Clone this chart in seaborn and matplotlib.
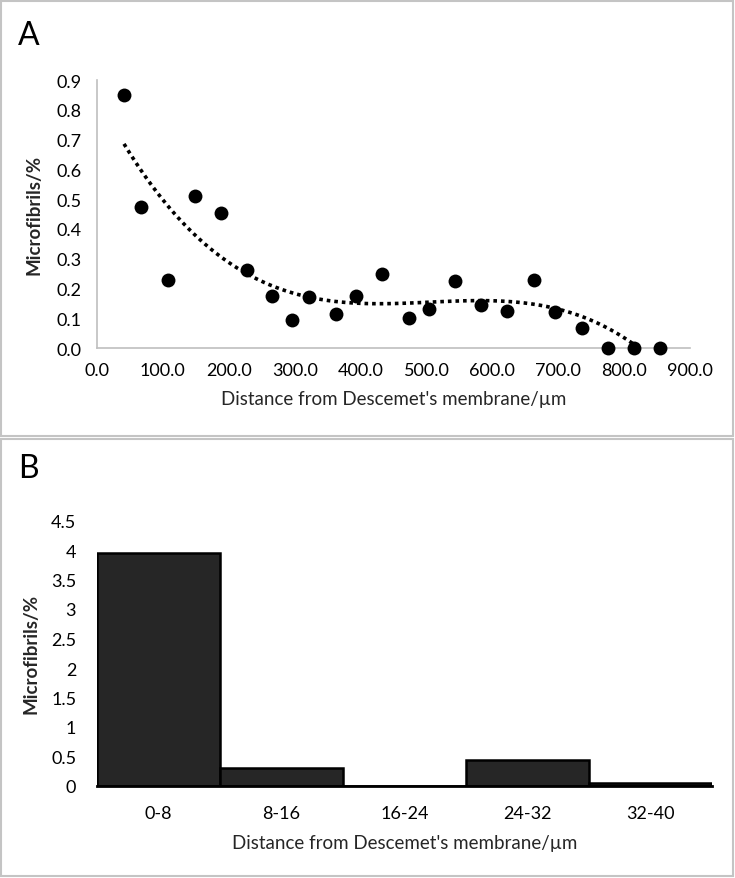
import matplotlib
matplotlib.use("Agg")
import matplotlib.pyplot as plt
import matplotlib.patches as mpatches
import pandas as pd
import seaborn as sns
from matplotlib.ticker import FormatStrFormatter

# Panel A data: distance vs microfibril %
dist = [41, 67, 108, 148, 188, 228, 266, 296, 322, 362, 393, 433,
        473, 504, 544, 583, 623, 663, 695, 736, 776, 815, 854]
micro = [0.851, 0.475, 0.230, 0.511, 0.452, 0.263, 0.174, 0.095, 0.171, 0.113, 0.173, 0.248,
         0.102, 0.132, 0.224, 0.145, 0.125, 0.227, 0.120, 0.066, 0.0, 0.0, 0.0]

# Panel B data: binned distance
bins = ["0-8", "8-16", "16-24", "24-32", "32-40"]
bin_vals = [3.95, 0.30, 0.0, 0.44, 0.05]

df_a = pd.DataFrame({"dist": dist, "micro": micro})
df_b = pd.DataFrame({"bin": bins, "val": bin_vals})

sns.set_style("white")
plt.rcParams["font.family"] = ["Lato", "DejaVu Sans"]
plt.rcParams["text.color"] = "black"

fig = plt.figure(figsize=(7.35, 8.79), dpi=100)

# panel frames
for y0, h in [(1 - 437 / 879, 435 / 879), (2 / 879, 437 / 879)]:
    fig.patches.append(mpatches.Rectangle((1 / 735, y0), 732 / 735, h, transform=fig.transFigure,
                                          fill=False, edgecolor="#c4c4c4", lw=1.5))
fig.text(18 / 735, 1 - 36 / 879, "A", fontsize=23, va="center", ha="left")
fig.text(18 / 735, 1 - 469 / 879, "B", fontsize=23, va="center", ha="left")

grey = "#bfbfbf"

# Panel A
ax1 = fig.add_axes([97 / 735, 1 - 349 / 879, 593 / 735, 268 / 879])
sns.regplot(data=df_a, x="dist", y="micro", order=3, ci=None, ax=ax1,
            scatter_kws=dict(s=100, color="black", alpha=1, linewidths=0, zorder=3),
            line_kws=dict(color="black", ls=(0, (1, 1.1)), lw=2.6))
ax1.set_xlim(0, 900)
ax1.set_ylim(0, 0.9)
ax1.set_xticks(range(0, 901, 100))
ax1.set_yticks([i / 10 for i in range(10)])
ax1.xaxis.set_major_formatter(FormatStrFormatter("%.1f"))
ax1.yaxis.set_major_formatter(FormatStrFormatter("%.1f"))
for s in ["top", "right"]:
    ax1.spines[s].set_visible(False)
for s in ["left", "bottom"]:
    ax1.spines[s].set_color(grey)
    ax1.spines[s].set_linewidth(1.2)
ax1.tick_params(axis="x", direction="in", length=5, color=grey, labelsize=13, pad=10,
                labelcolor="black")
ax1.tick_params(axis="y", direction="out", length=5, color=grey, labelsize=13, pad=6,
                labelcolor="black")
ax1.set_xlabel("Distance from Descemet's membrane/µm", fontsize=13.5, labelpad=9)
ax1.set_ylabel("Microfibrils/%", fontsize=13.5, fontweight="bold", labelpad=10)
for c in ax1.collections:
    c.set_clip_on(False)

# Panel B
ax2 = fig.add_axes([97 / 735, 1 - 787 / 879, 615 / 735, 265.5 / 879])
sns.barplot(data=df_b, x="bin", y="val", width=1, color="#262626", edgecolor="black",
            linewidth=1.8, saturation=1, ax=ax2)
ax2.set_xlim(-0.5, 4.5)
ax2.set_ylim(0, 4.5)
ax2.set_yticks([0, 0.5, 1, 1.5, 2, 2.5, 3, 3.5, 4, 4.5])
ax2.set_yticklabels(["0", "0.5", "1", "1.5", "2", "2.5", "3", "3.5", "4", "4.5"])
for s in ["top", "right", "left"]:
    ax2.spines[s].set_visible(False)
ax2.spines["bottom"].set_color("black")
ax2.spines["bottom"].set_linewidth(2)
ax2.tick_params(axis="both", length=0, labelsize=13, labelcolor="black")
ax2.tick_params(axis="x", pad=14)
ax2.tick_params(axis="y", pad=15)
ax2.set_xlabel("Distance from Descemet's membrane/µm", fontsize=13.5, labelpad=9)
ax2.set_ylabel("Microfibrils/%", fontsize=13.5, fontweight="bold", labelpad=8)

fig.savefig("out.png", dpi=100)
